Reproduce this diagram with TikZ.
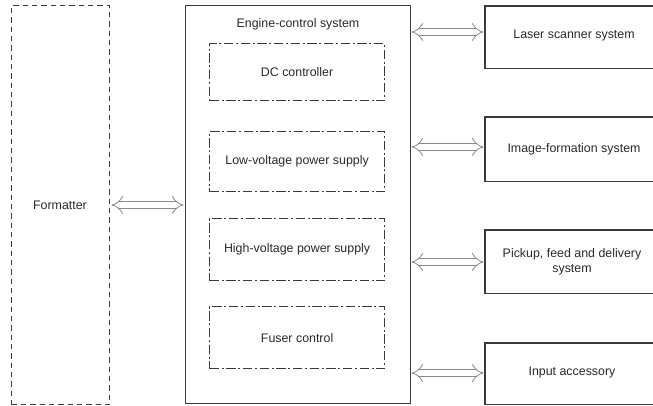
\documentclass[tikz,border=0pt]{standalone}
\usepackage{fontspec}
\setmainfont{Liberation Sans}
\usetikzlibrary{arrows.meta}
\definecolor{ln}{HTML}{3A3A3A}
\definecolor{tx}{HTML}{2A2A2A}
\definecolor{ar}{HTML}{8A8A8A}
\begin{document}
\begin{tikzpicture}[x=0.75pt,y=-0.75pt,
  every node/.style={font=\fontsize{9.3}{11}\selectfont, text=tx},
  solidbox/.style={draw=ln, line width=1.1pt, inner sep=0pt},
  dashbox/.style={draw=ln, line width=1.1pt, inner sep=0pt, dash pattern=on 4pt off 3pt},
  dotbox/.style={draw=ln, line width=0.9pt, inner sep=0pt, dash pattern=on 7pt off 2pt on 1.5pt off 2pt},
  openbox/.style={inner sep=0pt},
  dblarrow/.style={draw=ar, double=white, double distance=4.2pt, line width=0.6pt, {Implies[length=4pt,width=13pt]}-{Implies[length=4pt,width=13pt]}, shorten <=1pt, shorten >=1pt}
]
\useasboundingbox[fill=white] (0,0) rectangle (653,406);
% Formatter
\node[dashbox, minimum width=98*0.75pt, minimum height=399*0.75pt, anchor=north west] (fmt) at (11,5) {};
\node (fmttext) at (60,205) {Formatter};
% Engine control
\node[solidbox, minimum width=225*0.75pt, minimum height=398*0.75pt, anchor=north west] (eng) at (185,5) {};
\node (engtext) at (298,24) {Engine-control system};
% inner boxes
\node[dotbox, minimum width=175*0.75pt, minimum height=57*0.75pt, anchor=north west] (dc) at (209,43) {DC controller};
\node[dotbox, minimum width=175*0.75pt, minimum height=60*0.75pt, anchor=north west] (lv) at (209,131) {Low-voltage power supply};
\node[dotbox, minimum width=175*0.75pt, minimum height=62*0.75pt, anchor=north west] (hv) at (209,218) {High-voltage power supply};
\node[dotbox, minimum width=175*0.75pt, minimum height=62*0.75pt, anchor=north west] (fu) at (209,306) {Fuser control};
% right boxes (cut off at the right edge)
\node[openbox, minimum width=168*0.75pt, minimum height=62*0.75pt, anchor=north west] (las) at (485,6) {};
\node (lastext) at (574,36) {Laser scanner system};
\node[openbox, minimum width=168*0.75pt, minimum height=64*0.75pt, anchor=north west] (img) at (485,117) {};
\node (imgtext) at (574,149) {Image-formation system};
\node[openbox, minimum width=168*0.75pt, minimum height=63*0.75pt, anchor=north west] (pick) at (485,230) {};
\node[align=center] (picktext) at (572,262) {Pickup, feed and delivery\\system};
\node[openbox, minimum width=168*0.75pt, minimum height=61*0.75pt, anchor=north west] (inp) at (485,343) {};
\node (inptext) at (572,373) {Input accessory};
\foreach \b in {las,img,pick,inp}{
  \draw[ln, line width=1.1pt] (\b.north east) -- (\b.north west) -- (\b.south west) -- (\b.south east);
}
% arrows
\coordinate (a0) at (110,205);
\coordinate (a1) at (185,205);
\draw[dblarrow] (a0) -- (a1);
\coordinate (l0) at (410,32);
\coordinate (l1) at (485,32);
\draw[dblarrow] (l0) -- (l1);
\coordinate (i0) at (410,147);
\coordinate (i1) at (485,147);
\draw[dblarrow] (i0) -- (i1);
\coordinate (p0) at (410,262);
\coordinate (p1) at (485,262);
\draw[dblarrow] (p0) -- (p1);
\coordinate (n0) at (410,373);
\coordinate (n1) at (485,373);
\draw[dblarrow] (n0) -- (n1);
\end{tikzpicture}
\end{document}
